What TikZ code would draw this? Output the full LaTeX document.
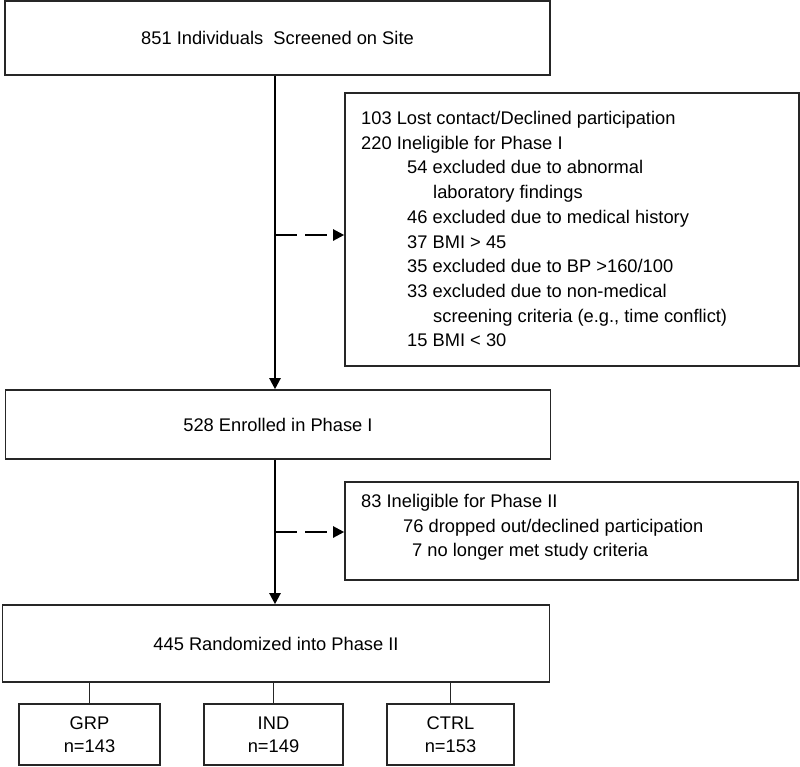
\documentclass[tikz,border=0pt]{standalone}
\usepackage{fontspec}
\setmainfont{Liberation Sans}
\usetikzlibrary{arrows.meta}
\tikzset{
  box/.style={draw=black!85, line width=1.6pt, inner sep=0pt, align=center,
    font=\fontsize{18.3}{23}\selectfont},
  txt/.style={anchor=base west, inner sep=0pt, font=\fontsize{18.3}{22}\selectfont},
  flow/.style={line width=2.2pt, -{Triangle[width=11pt,length=11pt]}},
  side/.style={line width=2.2pt, dash pattern=on 22pt off 8pt, -{Triangle[width=11pt,length=11pt]}},
  link/.style={draw=black!85, line width=1.5pt}
}
\begin{document}
\begin{tikzpicture}[x=1pt,y=-1pt]
\useasboundingbox (0,0) rectangle (800,766);
% main boxes
\node[box, minimum width=545pt, minimum height=74pt] (b1) at (277.5,38) {851 Individuals\ \ Screened on Site};
\node[box, minimum width=545pt, minimum height=69pt] (b2) at (278,424.5) {528 Enrolled in Phase I};
\node[box, minimum width=547pt, minimum height=77pt] (b3) at (276,643.5) {445 Randomized into Phase II};
% exclusion boxes
\node[box, minimum width=454pt, minimum height=273pt] (e1) at (572,229.5) {};
\node[box, minimum width=453pt, minimum height=98pt] (e2) at (571.5,531) {};
% arms
\node[box, minimum width=141pt, minimum height=61pt] (g1) at (89.5,734.5) {GRP\\n=143};
\node[box, minimum width=139pt, minimum height=61pt] (g2) at (273.5,734.5) {IND\\n=149};
\node[box, minimum width=127pt, minimum height=61pt] (g3) at (450.5,734.5) {CTRL\\n=153};
% exclusion texts
\node[txt] (t1) at (361,124.5) {103 Lost contact/Declined participation};
\node[txt] (t2) at (361,149.2) {220 Ineligible for Phase I};
\node[txt] (t3) at (407,173.9) {54 excluded due to abnormal};
\node[txt] (t4) at (433,198.6) {laboratory findings};
\node[txt] (t5) at (407,223.3) {46 excluded due to medical history};
\node[txt] (t6) at (407,248.0) {37 BMI > 45};
\node[txt] (t7) at (407,272.7) {35 excluded due to BP >160/100};
\node[txt] (t8) at (407,297.4) {33 excluded due to non-medical};
\node[txt] (t9) at (433,322.1) {screening criteria (e.g., time conflict)};
\node[txt] (t10) at (407,346.8) {15 BMI < 30};
\node[txt] (u1) at (361,507.5) {83 Ineligible for Phase II};
\node[txt] (u2) at (403,532.0) {76 dropped out/declined participation};
\node[txt] (u3) at (412,556.5) {7 no longer met study criteria};
% connectors
\coordinate (ax) at (275,0);
\coordinate (d1) at (275,235);
\coordinate (d2) at (275,532);
\draw[flow] (b1.south -| ax) -- (b2.north -| ax);
\draw[flow] (b2.south -| ax) -- (b3.north -| ax);
\draw[side] (d1) -- (e1.west |- d1);
\draw[side] (d2) -- (e2.west |- d2);
\draw[link] (g1.north) -- (g1.north |- b3.south);
\draw[link] (g2.north) -- (g2.north |- b3.south);
\draw[link] (g3.north) -- (g3.north |- b3.south);
\end{tikzpicture}
\end{document}
